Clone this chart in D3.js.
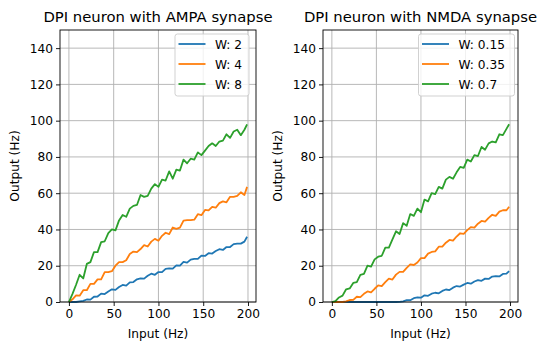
<!DOCTYPE html>
<html>
<head>
<meta charset="utf-8">
<script src="https://cdn.jsdelivr.net/npm/d3@7"></script>
<style>
  body { margin: 0; background: #fff; }
  svg { font-family: "DejaVu Sans", sans-serif; }
</style>
</head>
<body>
<svg width="547" height="351"></svg>
<script>
const inputHz = [0, 4, 8, 12, 16, 20, 24, 28, 32, 36, 40, 44, 48, 52, 56, 60, 64, 68, 72, 76,
  80, 84, 88, 92, 96, 100, 104, 108, 112, 116, 120, 124, 128, 132, 136, 140, 144, 148, 152, 156,
  160, 164, 168, 172, 176, 180, 184, 188, 192, 196, 199];

const ampaW2 = [0, 0, 0, 0.3, 0.6, 1.4, 1.3, 2.9, 3, 4.6, 4.4, 5.8, 7, 6.7, 8.3, 9.4, 9, 10.8, 11, 12.5,
  13, 12.9, 14.5, 15.6, 15, 16.5, 16.5, 18.3, 18.5, 18.4, 20.2, 20.1, 22.1, 21.7, 23.4, 23.8, 23.8, 25.6, 25.4, 26.9,
  26.7, 28.1, 29.1, 28.7, 30.3, 30.3, 31.9, 32.2, 32.2, 33.3, 36];
const ampaW4 = [0, 1.5, 3.7, 3.5, 6.5, 6.5, 10, 10, 12.5, 12.5, 16.5, 16.5, 17, 20, 22, 22, 23, 26.5, 27.8, 27.5,
  29.2, 31.4, 30.6, 33.3, 34.8, 33.8, 36.5, 38.2, 37.4, 41.1, 40.3, 41, 44.9, 45.1, 45.1, 45.4, 48.4, 47.9, 50.8, 50.5,
  52.5, 52, 54.5, 55.5, 55, 58, 58, 58.5, 60.5, 59, 63.5];
const ampaW8 = [0, 4.5, 9.5, 15, 13, 21, 22, 27.5, 27.5, 33, 33.5, 38, 40, 39.5, 45, 48, 47, 51.5, 53, 53.5,
  59, 58, 58.5, 62.5, 65, 63.5, 67.5, 67, 72, 68, 73, 72.5, 78.5, 76.5, 79, 78.5, 82.5, 81, 83.5, 86,
  87.5, 86, 88.5, 89, 92.5, 90.5, 94, 95, 92, 95, 98];

const nmdaW015 = [0, 0, 0, 0, 0, 0, 0, 0, 0, 0, 0, 0, 0, 0, 0, 0, 0, 0, 0, 0.1,
  0.4, 1, 1, 2.1, 2.5, 2.4, 3.7, 3.4, 4.6, 5.1, 4.8, 6.1, 6.9, 6.6, 7.9, 8.8, 8.5, 9.6, 10.5, 10.1,
  11.3, 12.1, 11.7, 12.9, 12.7, 14, 14.3, 14.1, 15.5, 15.6, 17];
const nmdaW035 = [0, 0, 0, 0, 0.3, 1.1, 1.2, 2.9, 2.7, 4.5, 5.8, 5.3, 7.3, 9.2, 8.8, 11, 12.9, 12.4, 15.1, 16.6,
  16.6, 18.8, 20.7, 20.4, 21.8, 24.2, 24.2, 26.7, 27.6, 27.9, 30.5, 30.5, 32.7, 34.2, 33.8, 36.1, 37.9, 37.6, 39.6, 41.3,
  41, 43.2, 44.7, 44.3, 46.4, 48.1, 47.5, 49.8, 50.6, 50.6, 52.5];
const nmdaW07 = [0, 0.5, 2.5, 3.5, 7, 7.5, 10.5, 11, 15, 15.5, 20, 19.5, 23.5, 25, 25.5, 30, 30, 34.5, 39, 37.5,
  43.5, 42, 48.5, 47.5, 51.5, 49.5, 56.5, 55.5, 60, 59.5, 63.5, 62.5, 67.5, 69, 68, 71.5, 74.5, 74, 78.5, 77.5,
  81, 80.5, 85.5, 84, 87.5, 88.5, 88, 92.5, 92, 95.5, 98];

const titles = ["DPI neuron with AMPA synapse", "DPI neuron with NMDA synapse"];
const ampaLabels = ["W: 2", "W: 4", "W: 8"];
const nmdaLabels = ["W: 0.15", "W: 0.35", "W: 0.7"];
const xTicks = [0, 50, 100, 150, 200];
const yTicks = [0, 20, 40, 60, 80, 100, 120, 140];
const colors = ["#1f77b4", "#ff7f0e", "#2ca02c"];

const svg = d3.select("svg");
const plotTop = 30, plotBottom = 302;

const panels = [
  { left: 60, right: 256, title: titles[0], labels: ampaLabels, series: [ampaW2, ampaW4, ampaW8], legX: 175, legW: 74 },
  { left: 323, right: 518, title: titles[1], labels: nmdaLabels, series: [nmdaW015, nmdaW035, nmdaW07], legX: 418.5, legW: 96 }
];

panels.forEach(function (p) {
  const x = d3.scaleLinear().domain([-9.95, 208.95]).range([p.left, p.right]);
  const y = d3.scaleLinear().domain([0, 150]).range([plotBottom, plotTop]);
  const g = svg.append("g");

  // grid
  g.append("g").selectAll("line").data(xTicks).join("line")
    .attr("x1", d => x(d)).attr("x2", d => x(d)).attr("y1", plotTop).attr("y2", plotBottom)
    .attr("stroke", "#b0b0b0").attr("stroke-width", 0.9);
  g.append("g").selectAll("line").data(yTicks).join("line")
    .attr("x1", p.left).attr("x2", p.right).attr("y1", d => y(d)).attr("y2", d => y(d))
    .attr("stroke", "#b0b0b0").attr("stroke-width", 0.9);

  // data lines
  const line = d3.line().x((d, i) => x(inputHz[i])).y(d => y(d));
  p.series.forEach(function (s, i) {
    g.append("path").datum(s).attr("d", line)
      .attr("fill", "none").attr("stroke", colors[i]).attr("stroke-width", 1.8)
      .attr("stroke-linejoin", "round");
  });

  // axes
  const xa = g.append("g").attr("transform", `translate(0,${plotBottom})`)
    .call(d3.axisBottom(x).tickValues(xTicks).tickSize(4).tickPadding(3));
  const ya = g.append("g").attr("transform", `translate(${p.left},0)`)
    .call(d3.axisLeft(y).tickValues(yTicks).tickSize(4).tickPadding(3));
  [xa, ya].forEach(a => {
    a.select(".domain").remove();
    a.selectAll("text").attr("font-size", 12.2).attr("fill", "#000").attr("font-family", "DejaVu Sans");
    a.selectAll("line").attr("stroke", "#000").attr("stroke-width", 0.9);
  });

  g.append("rect").attr("x", p.left).attr("y", plotTop)
    .attr("width", p.right - p.left).attr("height", plotBottom - plotTop)
    .attr("fill", "none").attr("stroke", "#000").attr("stroke-width", 0.9);

  // labels
  g.append("text").attr("x", (p.left + p.right) / 2).attr("y", 22)
    .attr("text-anchor", "middle").attr("font-size", 14.8).text(p.title);
  g.append("text").attr("x", (p.left + p.right) / 2).attr("y", 338)
    .attr("text-anchor", "middle").attr("font-size", 12.2).text("Input (Hz)");
  g.append("text").attr("transform", `translate(${p.left - 41},${(plotTop + plotBottom) / 2}) rotate(-90)`)
    .attr("text-anchor", "middle").attr("font-size", 12.2).text("Output (Hz)");

  // legend
  const lx = p.legX, ly = 34;
  const leg = g.append("g");
  leg.append("rect").attr("x", lx).attr("y", ly).attr("width", p.legW).attr("height", 62)
    .attr("rx", 2.5).attr("fill", "rgba(255,255,255,0.8)").attr("stroke", "#ccc").attr("stroke-width", 0.9);
  p.labels.forEach(function (lab, i) {
    const yy = ly + 10 + i * 20;
    leg.append("line").attr("x1", lx + 3.5).attr("x2", lx + 30.5).attr("y1", yy).attr("y2", yy)
      .attr("stroke", colors[i]).attr("stroke-width", 1.8);
    leg.append("text").attr("x", lx + 40).attr("y", yy + 4.5).attr("font-size", 12.2).text(lab);
  });
});
</script>
</body>
</html>
